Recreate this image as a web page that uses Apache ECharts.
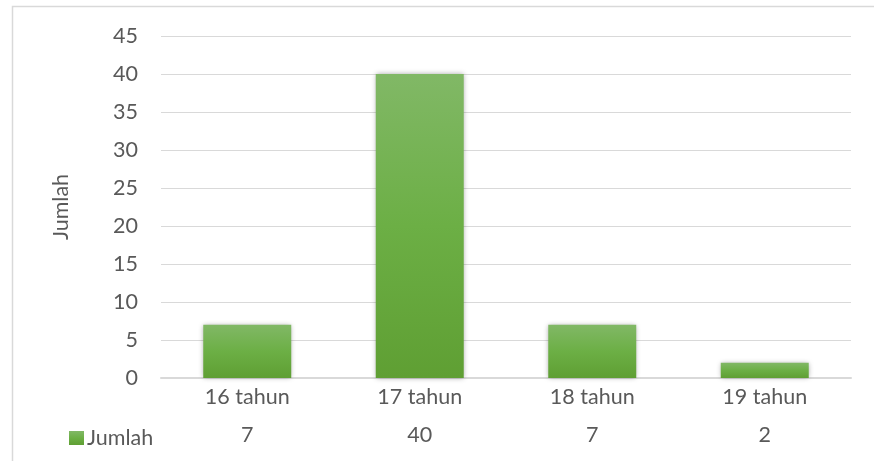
<!DOCTYPE html>
<html>
<head>
<meta charset="utf-8">
<script src="https://cdn.jsdelivr.net/npm/echarts@6/dist/echarts.min.js"></script>
<style>
  html, body { margin: 0; padding: 0; background: #fff; }
  #chart { width: 874px; height: 461px; }
</style>
</head>
<body>
<div id="chart"></div>
<script>
// Age groups and respondent counts
const categories = ['16 tahun', '17 tahun', '18 tahun', '19 tahun'];
const jumlah = [7, 40, 7, 2];
const seriesName = 'Jumlah';
const yTicks = { min: 0, max: 45, interval: 5 };

const font = 'Lato, Open Sans, sans-serif';
const textColor = '#595959';
const fs = 21.5;

const chart = echarts.init(document.getElementById('chart'), null, { renderer: 'canvas' });

chart.setOption({
  animation: false,
  backgroundColor: '#ffffff',
  textStyle: { fontFamily: font },
  graphic: [{
    type: 'rect',
    shape: { x: 12.5, y: 6.5, width: 880, height: 470 },
    style: { fill: 'none', stroke: '#d9d9d9', lineWidth: 1.5 },
    silent: true,
    z: -1
  }],
  grid: { left: 161, right: 23, top: 36, bottom: 83, containLabel: false },
  legend: {
    data: [seriesName],
    left: 64,
    top: 422,
    icon: 'rect',
    itemWidth: 15,
    itemHeight: 14,
    itemGap: 4,
    textStyle: { color: textColor, fontSize: fs, fontFamily: font, padding: [0, 0, 0, -2] }
  },
  xAxis: [{
    type: 'category',
    data: categories,
    position: 'bottom',
    axisLine: { show: true, lineStyle: { color: '#d9d9d9', width: 2 } },
    axisTick: { show: false },
    axisLabel: { color: textColor, fontSize: fs, fontFamily: font, margin: 8 }
  }, {
    // data-table row beneath the category labels
    type: 'category',
    data: categories,
    position: 'bottom',
    offset: 38,
    axisLine: { show: false },
    axisTick: { show: false },
    axisLabel: {
      color: textColor, fontSize: fs, fontFamily: font, margin: 8,
      formatter: (v, i) => String(jumlah[i])
    }
  }],
  yAxis: {
    type: 'value',
    min: yTicks.min,
    max: yTicks.max,
    interval: yTicks.interval,
    name: 'Jumlah',
    nameLocation: 'middle',
    nameRotate: 90,
    nameGap: 89,
    nameTextStyle: { color: textColor, fontSize: fs, fontFamily: font },
    axisLine: { show: false },
    axisTick: { show: false },
    axisLabel: { color: textColor, fontSize: fs, fontFamily: font, margin: 23 },
    splitLine: { lineStyle: { color: '#d9d9d9', width: 1 } }
  },
  series: [{
    name: seriesName,
    type: 'bar',
    data: jumlah,
    barWidth: '51%',
    itemStyle: {
      color: new echarts.graphic.LinearGradient(0, 0, 0, 1, [
        { offset: 0, color: '#81b866' },
        { offset: 0.5, color: '#6caf45' },
        { offset: 1, color: '#5f9f33' }
      ]),
      shadowBlur: 5,
      shadowColor: 'rgba(0,0,0,0.35)',
      shadowOffsetX: 0,
      shadowOffsetY: 0
    }
  }]
});
</script>
</body>
</html>
